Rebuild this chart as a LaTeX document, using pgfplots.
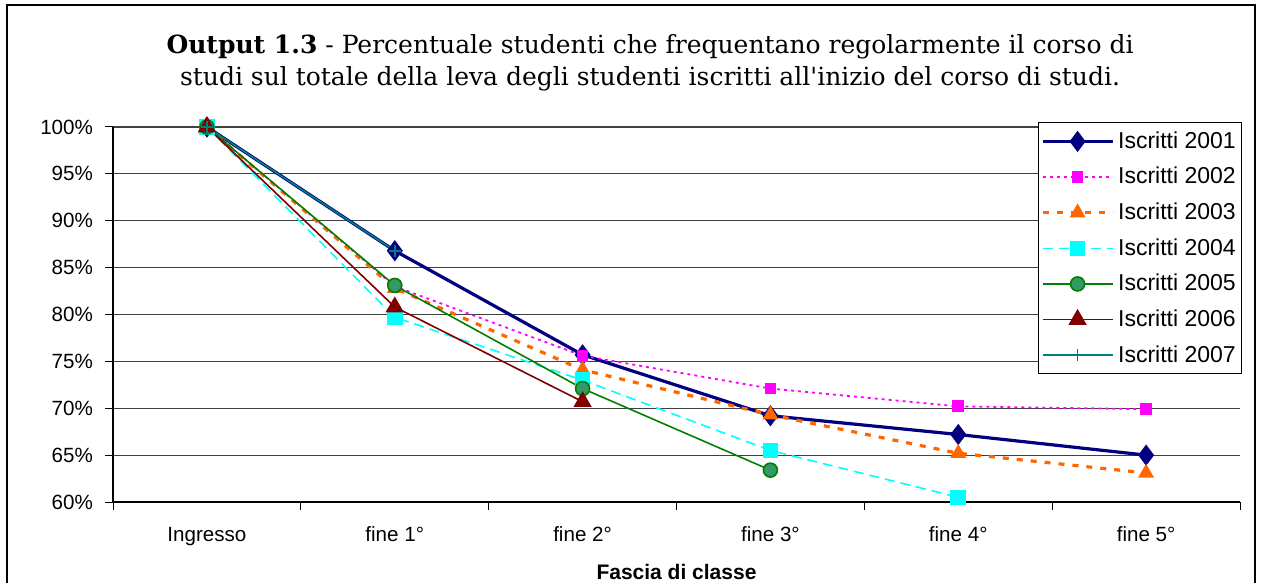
\documentclass[border=0pt]{standalone}
\usepackage{fontspec}
\setmainfont{Liberation Sans}
\newfontfamily\titlefont{DejaVu Serif}
\usepackage{pgfplots}
\pgfplotsset{compat=1.18}
\definecolor{c01}{RGB}{0,0,128}
\definecolor{c02}{RGB}{255,0,255}
\definecolor{c03}{RGB}{255,102,0}
\definecolor{c04}{RGB}{0,255,255}
\definecolor{c05}{RGB}{0,128,0}
\definecolor{c05f}{RGB}{51,153,102}
\definecolor{c06}{RGB}{128,0,0}
\definecolor{c07}{RGB}{0,128,128}
\begin{document}
\begin{tikzpicture}
\useasboundingbox (0,0) rectangle (631bp,291.5bp);
\draw[line width=0.75bp, black] (3.5bp,-5bp) rectangle (627.5bp,289bp);
\node[align=center, font=\titlefont\fontsize{12.5bp}{16bp}\selectfont] at (325bp,260bp)
  {\textbf{Output 1.3} - Percentuale studenti che frequentano regolarmente il corso di\\
   studi sul totale della leva degli studenti iscritti all'inizio del corso di studi.};
\begin{axis}[
  at={(56.5bp,40.5bp)}, anchor=south west,
  scale only axis, width=563.5bp, height=187.5bp,
  xmin=-0.5, xmax=5.5, ymin=60, ymax=100,
  clip=false,
  axis x line*=bottom, axis y line*=left,
  axis line style={black, line width=0.6bp},
  xtick={-0.5,0.5,...,5.5},
  xticklabels={Ingresso,fine 1°,fine 2°,fine 3°,fine 4°,fine 5°},
  x tick label as interval,
  ytick={60,65,...,100},
  yticklabel={\pgfmathprintnumber{\tick}\%},
  /pgf/number format/assume math mode=true,
  tick align=outside, major tick length=4bp,
  tick style={black, line width=0.5bp},
  ymajorgrids, major grid style={black!75, line width=0.6bp},
  tick label style={font=\fontsize{10.3bp}{12bp}\selectfont},
  x tick label style={yshift=-5bp},
  y tick label style={xshift=-2.5bp},
  xlabel={\textbf{Fascia di classe}},
  xlabel style={font=\fontsize{10.5bp}{12bp}\selectfont, at={(axis description cs:0.5,0)}, anchor=north, yshift=-27.5bp},
  legend style={at={(1.002,1.013)}, anchor=north east, draw=black, line width=0.5bp,
    font=\fontsize{11.5bp}{13bp}\selectfont, row sep=4bp, inner xsep=1bp, inner ysep=2.5bp},
  legend cell align=left,
  legend image code/.code={\draw[mark repeat=2,mark phase=2,#1] plot coordinates {(0bp,0bp) (17.5bp,0bp) (35bp,0bp)};},
]
\addplot[c01, line width=1.6bp, mark=diamond*, mark size=4bp, mark options={solid, fill=c01}]
  coordinates {(0,100) (1,86.8) (2,75.7) (3,69.2) (4,67.2) (5,65.0)};
\addlegendentry{Iscritti 2001}
\addplot[c02, line width=0.9bp, dash pattern=on 1.5bp off 2bp, mark=square*, mark size=2.5bp, mark options={solid, fill=c02}]
  coordinates {(0,100) (1,83.0) (2,75.6) (3,72.1) (4,70.2) (5,69.9)};
\addlegendentry{Iscritti 2002}
\addplot[c03, line width=1.6bp, dash pattern=on 3bp off 4bp, mark=triangle*, mark size=3bp, mark options={solid, fill=c03}]
  coordinates {(0,100) (1,82.8) (2,74.1) (3,69.3) (4,65.2) (5,63.1)};
\addlegendentry{Iscritti 2003}
\addplot[c04, line width=0.8bp, dash pattern=on 5bp off 3bp, mark=square*, mark size=3.5bp, mark options={solid, fill=c04}]
  coordinates {(0,100) (1,79.7) (2,73.0) (3,65.5) (4,60.5)};
\addlegendentry{Iscritti 2004}
\addplot[c05, line width=0.8bp, mark=*, mark size=3.5bp, mark options={solid, fill=c05f, draw=c05}]
  coordinates {(0,100) (1,83.1) (2,72.1) (3,63.4)};
\addlegendentry{Iscritti 2005}
\addplot[c06, line width=0.8bp, mark=triangle*, mark size=4.5bp, mark options={solid, fill=c06}]
  coordinates {(0,100) (1,80.8) (2,70.7)};
\addlegendentry{Iscritti 2006}
\addplot[c07, line width=0.8bp, mark=+, mark size=3bp, mark options={solid}]
  coordinates {(0,100) (1,86.8)};
\addlegendentry{Iscritti 2007}
\end{axis}
\end{tikzpicture}
\end{document}
